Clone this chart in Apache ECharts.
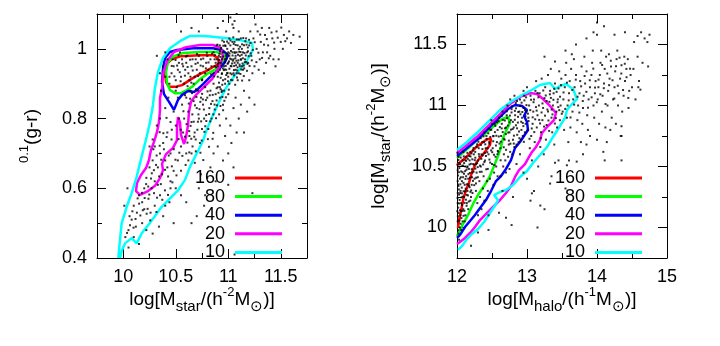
<!DOCTYPE html>
<html>
<head>
<meta charset="utf-8">
<script src="https://cdn.jsdelivr.net/npm/echarts@6/dist/echarts.min.js"></script>
<style>
html, body { margin: 0; padding: 0; background: #fff; }
#chart { width: 720px; height: 346px; }
</style>
</head>
<body>
<div id="chart"></div>
<script>
// contour levels, same for both panels
var levels = ['160', '80', '40', '20', '10'];
var levelColors = ['#ff0000', '#00ff00', '#0000ff', '#ff00ff', '#00ffff'];

// ---- left panel: log Mstar vs 0.1(g-r)
var colorXRange = [9.75, 11.75];
var colorYRange = [0.4, 1.1];
var colorXTicks = [10, 10.5, 11, 11.5];
var colorXMinor = [10.25, 10.75, 11.25];
var colorYTicks = [0.4, 0.6, 0.8, 1];
var colorYMinor = [0.5, 0.7, 0.9];

var colorC160 = [[10.417,0.957],[10.464,0.971],[10.55,0.979],[10.731,0.982],[10.855,0.982],[10.902,0.974],[10.912,0.957],[10.855,0.948],[10.788,0.936],[10.712,0.925],[10.636,0.911],[10.56,0.896],[10.493,0.891],[10.436,0.891],[10.407,0.905],[10.398,0.931],[10.417,0.957]];
var colorC80 = [[10.426,0.962],[10.483,0.979],[10.569,0.988],[10.731,0.991],[10.893,0.991],[10.969,0.982],[10.95,0.959],[10.883,0.942],[10.798,0.928],[10.731,0.913],[10.664,0.893],[10.607,0.882],[10.55,0.873],[10.493,0.873],[10.445,0.882],[10.417,0.902],[10.407,0.934],[10.426,0.962]];
var colorC40 = [[10.398,0.974],[10.445,0.991],[10.512,0.997],[10.664,1.002],[10.855,1.002],[10.94,0.997],[10.998,0.982],[10.969,0.962],[10.902,0.939],[10.826,0.919],[10.76,0.899],[10.712,0.885],[10.674,0.876],[10.617,0.879],[10.56,0.868],[10.521,0.853],[10.483,0.825],[10.436,0.848],[10.388,0.87],[10.369,0.905],[10.379,0.945],[10.398,0.974]];
var colorC20 = [[10.369,0.888],[10.379,0.928],[10.417,0.965],[10.483,0.991],[10.598,1.005],[10.731,1.011],[10.855,1.011],[10.931,1.002],[10.95,0.979],[10.912,0.945],[10.845,0.913],[10.76,0.888],[10.693,0.868],[10.645,0.848],[10.626,0.819],[10.617,0.782],[10.598,0.747],[10.579,0.727],[10.55,0.753],[10.54,0.79],[10.521,0.804],[10.512,0.773],[10.512,0.738],[10.474,0.716],[10.407,0.698],[10.369,0.67],[10.379,0.652],[10.35,0.629],[10.302,0.607],[10.236,0.592],[10.16,0.581],[10.121,0.592],[10.131,0.615],[10.169,0.638],[10.217,0.658],[10.245,0.681],[10.264,0.71],[10.293,0.733],[10.321,0.761],[10.34,0.79],[10.35,0.825],[10.35,0.859],[10.369,0.888]];
var colorC10 = [[9.953,0.4],[9.969,0.452],[9.985,0.5],[10.033,0.547],[10.08,0.586],[10.128,0.633],[10.16,0.673],[10.191,0.71],[10.223,0.748],[10.255,0.79],[10.283,0.839],[10.302,0.888],[10.331,0.934],[10.379,0.974],[10.445,1.002],[10.54,1.022],[10.636,1.037],[10.779,1.037],[10.969,1.031],[11.112,1.025],[11.226,1.017],[11.236,0.997],[11.169,0.962],[11.064,0.925],[10.979,0.888],[10.921,0.853],[10.864,0.816],[10.817,0.784],[10.794,0.767],[10.762,0.738],[10.7,0.7],[10.636,0.662],[10.588,0.624],[10.524,0.595],[10.445,0.571],[10.366,0.547],[10.286,0.514],[10.239,0.495],[10.176,0.471],[10.128,0.442],[10.08,0.457],[10.017,0.442],[9.988,0.423],[9.969,0.4]];

// galaxies, read region by region
var colorDotsCore = [
  [10.46,0.93],[10.48,0.95],[10.5,0.91],[10.52,0.94],[10.53,0.96],[10.55,0.92],[10.56,0.97],[10.58,0.9],[10.59,0.94],[10.6,0.96],[10.62,0.93],[10.63,0.91],[10.65,0.95],[10.66,0.97],[10.68,0.92],[10.7,0.94],[10.71,0.96],[10.73,0.93],[10.74,0.97],[10.76,0.95],[10.78,0.93],[10.79,0.96],[10.81,0.94],[10.83,0.97],[10.84,0.95],[10.86,0.93],[10.88,0.96],[10.47,0.97],[10.51,0.89],[10.57,0.95],[10.64,0.92],[10.69,0.97],[10.75,0.91],[10.8,0.98],[10.87,0.97],[10.44,0.92],[10.54,0.99],[10.61,0.98],[10.72,0.98],[10.67,0.9],
  [10.487,0.921],[10.513,0.952],[10.538,0.933],[10.563,0.957],[10.587,0.923],[10.613,0.948],[10.637,0.969],[10.662,0.938],[10.688,0.957],[10.713,0.922],[10.737,0.952],[10.762,0.972],[10.787,0.944],[10.812,0.961],[10.837,0.927],[10.498,0.968],[10.546,0.907],[10.597,0.978],[10.648,0.903],[10.702,0.985],[10.752,0.912],[10.796,0.989],[10.846,0.986],[10.462,0.951],[10.527,0.982],
  [10.86,0.99],[10.88,1.0],[10.89,0.97],[10.9,0.95],[10.91,0.98],[10.92,1.01],[10.93,0.96],[10.94,0.93],[10.95,0.99],[10.96,1.02],[10.97,0.97],[10.98,0.94],[10.99,1.0],[11.0,0.96],[11.01,0.98],[11.02,1.01],[11.03,0.95],[11.04,0.99],[11.05,0.97],[11.06,1.02],[11.07,0.94],[11.08,0.99],[11.09,0.96],[11.1,1.0],[11.11,0.98],[11.12,1.03],[11.13,0.95],[11.14,0.99],[10.9,0.92],[10.92,0.94],[10.95,0.91],[10.97,0.9],[11.0,0.92],[11.02,0.93],[11.04,0.91],[11.06,0.96],[11.08,0.93],[10.87,0.95],[10.93,1.0],[10.98,0.98],[11.01,1.03],[11.05,1.0],[11.09,1.01],[11.12,0.97],[10.91,0.96],[10.96,0.95],[11.03,0.97],[11.07,0.98],[11.11,0.95],[11.15,1.01],[10.94,0.97],[10.99,0.93],[11.0,0.99],[11.04,1.02],[11.1,0.93],[11.13,1.0],[10.89,1.01],[10.97,1.01],[11.06,0.99],[11.16,0.97],[10.92,0.89],[10.96,0.88],[11.01,0.9],[11.05,0.93],[11.09,0.91],[11.14,0.94],[11.18,0.99],[11.17,1.03],[11.2,1.01],[11.19,0.96],
  [10.873,0.982],[10.884,0.947],[10.897,1.012],[10.905,0.934],[10.913,0.968],[10.921,0.993],[10.928,0.917],[10.936,0.952],[10.944,1.024],[10.951,0.978],[10.958,0.939],[10.967,0.962],[10.974,1.008],[10.981,0.925],[10.987,0.986],[10.994,0.957],[11.003,1.016],[11.011,0.943],[11.018,0.972],[11.026,0.994],[11.033,0.927],[11.041,0.981],[11.048,1.033],[11.056,0.951],[11.063,0.989],[11.071,1.011],[11.078,0.966],[11.086,0.938],[11.093,0.983],[11.101,1.027],[11.108,0.955],[11.117,0.991],[11.124,0.941],[11.132,1.013],[11.139,0.973],[11.147,0.952],[11.155,0.988],[11.163,1.022],[11.171,0.962],[11.178,0.937],[11.186,1.004],[11.194,0.979],[11.203,0.951],[11.212,1.017],[11.224,0.967],[10.912,0.903],[10.943,0.897],[10.971,0.913],[10.998,0.907],[11.027,0.911],[11.056,0.924],[11.083,0.918],[11.116,0.928],[11.148,0.922],[10.865,0.921],[10.889,0.887],[10.937,0.876],[11.005,0.883],[11.066,0.897],[11.132,0.909],
  [10.902,0.957],[10.917,0.986],[10.931,1.003],[10.948,0.944],[10.962,0.991],[10.976,0.951],[10.989,1.021],[11.007,0.964],[11.021,1.024],[11.036,0.958],[11.052,1.014],[11.068,0.973],[11.082,1.027],[11.097,0.967],[11.113,1.006],[11.128,0.983],[11.143,1.031],[11.158,0.962],[11.174,1.012],[11.189,0.993],[10.926,0.977],[10.953,1.009],[10.983,0.972],[11.012,0.987],[11.044,0.966],[11.075,0.953],[11.104,0.992],[11.136,0.958],[11.167,0.981],[11.198,1.026],[10.939,0.928],[10.966,0.941],[10.993,0.931],[11.024,0.951],[11.054,0.939],[11.089,0.947],[11.121,0.969],[11.152,0.944],[11.183,0.957],[11.214,0.987]
];
var colorDotsBright = [
  [11.22,0.98],[11.24,1.03],[11.25,0.95],[11.27,1.0],[11.28,1.05],[11.3,0.97],[11.31,1.02],[11.33,0.99],[11.35,1.04],[11.36,0.96],[11.38,1.01],[11.4,0.98],[11.42,1.03],[11.44,1.0],[11.46,1.05],[11.48,0.97],[11.5,1.02],[11.53,1.04],[11.56,1.03],[11.58,1.05],[11.62,1.04],[11.23,0.93],[11.29,0.94],[11.34,0.93],[11.21,1.05],[11.26,1.07],[11.39,1.06],[11.45,0.95],[11.52,1.0],[11.32,1.06],[11.2,0.91],[11.37,0.99],[11.43,0.97],[11.68,1.035],
  [11.233,0.997],[11.252,1.019],[11.268,0.962],[11.287,0.989],[11.304,1.041],[11.322,0.974],[11.341,1.012],[11.367,1.028],[11.386,0.973],[11.412,1.047],[11.437,1.018],[11.471,1.032],[11.505,1.061],[11.543,1.022],[11.597,1.017],
  [11.02,1.09],[11.04,1.07],[11.06,1.08],[11.08,1.1],[10.9,1.06],[10.72,1.05],[10.65,1.06],[10.55,1.05],[10.4,0.99],[10.35,0.93],[10.32,0.98],[10.98,1.05],[11.05,1.06],[10.95,1.08],[11.1,1.05]
];
var colorDotsMid = [
  [10.6,0.86],[10.62,0.82],[10.64,0.88],[10.65,0.79],[10.67,0.85],[10.68,0.76],[10.7,0.83],[10.71,0.88],[10.72,0.8],[10.74,0.86],[10.75,0.77],[10.76,0.84],[10.78,0.89],[10.79,0.81],[10.8,0.86],[10.82,0.83],[10.83,0.88],[10.85,0.85],[10.86,0.9],[10.88,0.87],[10.9,0.89],[10.63,0.75],[10.66,0.72],[10.69,0.74],[10.73,0.73],[10.58,0.8],[10.57,0.76],[10.55,0.72],[10.6,0.7],[10.62,0.68],[10.65,0.7],[10.77,0.8],[10.81,0.77],[10.84,0.8],[10.87,0.84],[10.92,0.86],[10.94,0.88],[10.56,0.84],[10.53,0.8],[10.5,0.78],[10.48,0.82],[10.45,0.79],[10.43,0.86],[10.4,0.83],[10.42,0.76],[10.46,0.74],[10.52,0.86],[10.5,0.88],[10.44,0.9],[10.4,0.92],[10.38,0.95],[10.42,0.97],[10.36,0.88],
  [10.612,0.893],[10.637,0.857],[10.655,0.873],[10.683,0.838],[10.697,0.862],[10.716,0.812],[10.734,0.848],[10.751,0.871],[10.768,0.826],[10.787,0.853],[10.803,0.878],[10.818,0.813],[10.836,0.842],[10.852,0.868],[10.871,0.826],[10.889,0.852],[10.907,0.874],[10.926,0.836],[10.944,0.862],[10.963,0.851],[10.588,0.867],[10.603,0.784],[10.628,0.764],[10.671,0.791],[10.706,0.768],[10.742,0.792],[10.773,0.762],[10.806,0.741],[10.829,0.792],[10.857,0.759],[10.884,0.801],[10.913,0.812],[10.951,0.824],[10.977,0.861],[10.573,0.821],[10.547,0.768],[10.527,0.741],[10.611,0.731],[10.648,0.742],[10.691,0.706],
  [10.624,0.843],[10.658,0.812],[10.693,0.884],[10.726,0.827],[10.758,0.855],[10.791,0.793],[10.824,0.867],[10.858,0.812],[10.893,0.838],[10.928,0.884],[10.641,0.779],[10.676,0.748],[10.711,0.791],[10.747,0.737],[10.781,0.778],[10.817,0.719],[10.851,0.742],[10.588,0.748],[10.563,0.693],[10.594,0.667],[10.629,0.703],[10.735,0.702],[10.762,0.681],[10.682,0.673]
];
var colorDotsTail = [
  [10.38,0.73],[10.35,0.7],[10.4,0.68],[10.33,0.66],[10.37,0.64],[10.42,0.66],[10.3,0.72],[10.28,0.68],[10.25,0.66],[10.3,0.62],[10.27,0.6],[10.33,0.61],[10.22,0.63],[10.2,0.6],[10.24,0.57],[10.18,0.56],[10.15,0.58],[10.2,0.54],[10.26,0.53],[10.13,0.53],[10.1,0.55],[10.08,0.51],[10.12,0.49],[10.05,0.48],[10.02,0.46],[10.05,0.43],[10.18,0.5],[10.22,0.48],[10.3,0.55],[10.35,0.58],[10.45,0.62],[10.48,0.65],[10.5,0.6],[10.44,0.56],[10.52,0.68],[10.55,0.65],[10.38,0.52],[10.4,0.55],[10.28,0.47],[10.15,0.44],[10.1,0.46],[10.01,0.55],[10.04,0.6],[10.06,0.52],[10.45,0.7],[10.55,0.58],[10.6,0.56],[10.48,0.5],[10.34,0.49],[10.32,0.78],[10.28,0.74],[10.25,0.72],[10.35,0.8],[10.45,0.6],
  [10.413,0.747],[10.387,0.712],[10.433,0.694],[10.362,0.682],[10.398,0.653],[10.318,0.694],[10.292,0.652],[10.264,0.628],[10.341,0.634],[10.238,0.605],[10.293,0.586],[10.178,0.587],[10.204,0.572],[10.151,0.556],[10.232,0.541],[10.117,0.512],[10.087,0.534],[10.163,0.522],[10.064,0.494],[10.036,0.472],[10.257,0.508],[10.316,0.532],[10.372,0.567],[10.426,0.581],[10.468,0.617],[10.507,0.637],[10.534,0.702],[10.481,0.712],[10.462,0.768],[10.412,0.802],
  [10.287,0.712],[10.312,0.667],[10.347,0.722],[10.272,0.643],[10.218,0.612],[10.248,0.582],[10.186,0.537],[10.137,0.571],[10.098,0.487],[10.322,0.573],[10.358,0.612],[10.397,0.594],[10.427,0.634],[10.463,0.663],[10.497,0.682],[10.382,0.758],[10.347,0.761],[10.223,0.527]
];
var colorDotsOut = [
  [10.95,0.84],[10.98,0.8],[11.0,0.87],[11.02,0.78],[11.05,0.83],[11.07,0.86],[11.1,0.8],[11.12,0.84],[11.15,0.88],[11.08,0.76],[11.03,0.73],[10.97,0.75],[10.92,0.78],[10.9,0.72],[10.86,0.7],[10.83,0.66],[10.8,0.63],[10.78,0.58],[10.88,0.62],[10.95,0.68],[11.0,0.7],[11.05,0.66],[11.18,0.82],[11.2,0.86],[11.15,0.76],[11.25,0.84],[10.7,0.52],[10.65,0.5],[10.72,0.6],[11.0,0.61],[10.74,0.64],[10.77,0.55],[11.23,0.586],[11.06,0.41]
];

// ---- right panel: log Mhalo vs log Mstar
var haloXRange = [12, 15];
var haloYRange = [9.75, 11.75];
var haloXTicks = [12, 13, 14, 15];
var haloXMinor = [12.5, 13.5, 14.5];
var haloYTicks = [10, 10.5, 11, 11.5];
var haloYMinor = [10.25, 10.75, 11.25];

var haloC160 = [[12.0,10.512],[12.139,10.58],[12.281,10.662],[12.424,10.721],[12.486,10.73],[12.471,10.676],[12.376,10.602],[12.281,10.537],[12.214,10.455],[12.171,10.365],[12.129,10.307],[12.09,10.234],[12.057,10.135],[12.029,10.061],[12.014,9.996]];
var haloC80 = [[12.0,10.57],[12.129,10.635],[12.271,10.709],[12.414,10.775],[12.543,10.84],[12.643,10.889],[12.729,10.906],[12.757,10.857],[12.7,10.791],[12.657,10.734],[12.629,10.66],[12.586,10.586],[12.529,10.504],[12.471,10.422],[12.386,10.34],[12.3,10.266],[12.229,10.193],[12.157,10.102],[12.086,10.029],[12.029,9.963],[12.0,9.93]];
var haloC40 = [[12.0,10.586],[12.143,10.652],[12.3,10.725],[12.471,10.824],[12.614,10.906],[12.729,10.971],[12.829,11.004],[12.929,10.996],[13.0,10.963],[12.957,10.914],[13.0,10.865],[13.014,10.799],[12.957,10.75],[12.9,10.701],[12.829,10.652],[12.771,10.553],[12.7,10.48],[12.629,10.422],[12.557,10.381],[12.486,10.299],[12.414,10.225],[12.329,10.16],[12.257,10.102],[12.186,10.053],[12.114,10.004],[12.043,9.939],[12.0,9.914]];
var haloC20 = [[12.0,10.611],[12.143,10.676],[12.3,10.75],[12.471,10.848],[12.614,10.93],[12.757,11.012],[12.9,11.07],[13.043,11.102],[13.143,11.094],[13.229,11.053],[13.329,10.996],[13.414,10.939],[13.386,10.881],[13.3,10.832],[13.214,10.775],[13.186,10.717],[13.129,10.66],[13.071,10.619],[13.029,10.578],[12.971,10.52],[12.886,10.471],[12.829,10.414],[12.771,10.34],[12.7,10.283],[12.614,10.225],[12.514,10.168],[12.429,10.119],[12.329,10.061],[12.257,10.004],[12.186,9.955],[12.114,9.914],[12.043,9.881],[12.0,9.865]];
var haloC10 = [[12.0,10.635],[12.143,10.701],[12.3,10.783],[12.471,10.881],[12.614,10.963],[12.786,11.037],[12.929,11.086],[13.043,11.119],[13.186,11.168],[13.329,11.184],[13.4,11.135],[13.471,11.16],[13.557,11.176],[13.657,11.135],[13.714,11.053],[13.643,11.012],[13.571,10.963],[13.543,10.898],[13.471,10.832],[13.371,10.742],[13.286,10.66],[13.186,10.594],[13.086,10.529],[13.0,10.463],[12.9,10.414],[12.8,10.348],[12.7,10.307],[12.614,10.291],[12.529,10.266],[12.586,10.225],[12.529,10.168],[12.471,10.119],[12.386,10.045],[12.3,9.988],[12.214,9.947],[12.143,9.906],[12.071,9.848],[12.014,9.816]];

var haloDotsLow = [
  [12.01,10.05],[12.02,10.12],[12.01,10.2],[12.03,10.27],[12.02,10.34],[12.04,10.4],[12.01,10.47],[12.03,10.53],[12.05,10.1],[12.06,10.2],[12.05,10.3],[12.07,10.38],[12.06,10.46],[12.08,10.55],[12.09,10.15],[12.1,10.25],[12.11,10.35],[12.1,10.44],[12.12,10.5],[12.13,10.58],[12.14,10.2],[12.15,10.3],[12.16,10.4],[12.17,10.48],[12.18,10.55],[12.19,10.62],[12.2,10.25],[12.21,10.35],[12.22,10.45],[12.23,10.52],[12.24,10.6],[12.02,9.95],[12.04,10.0],[12.08,10.05],[12.12,10.1],[12.16,10.15],[12.03,9.9],[12.06,9.98],[12.01,10.38],[12.02,10.58],[12.07,10.28],[12.13,10.42],[12.18,10.33],[12.25,10.4],[12.11,10.05],[12.19,10.22],[12.15,10.5],[12.09,10.62],
  [12.012,10.092],[12.018,10.163],[12.008,10.243],[12.026,10.312],[12.014,10.426],[12.033,10.487],[12.021,10.553],[12.042,10.142],[12.037,10.226],[12.048,10.354],[12.056,10.412],[12.044,10.518],[12.063,10.077],[12.071,10.184],[12.068,10.327],[12.079,10.453],[12.083,10.253],[12.092,10.366],[12.088,10.507],[12.097,10.583],[12.106,10.137],[12.114,10.296],[12.121,10.398],[12.118,10.551],[12.127,10.228],[12.135,10.473],[12.142,10.354],[12.149,10.612],[12.156,10.263],[12.163,10.437],[12.171,10.342],[12.178,10.516],[12.186,10.408],[12.194,10.582],[12.203,10.304],[12.211,10.478],[12.219,10.559],[12.228,10.382],[12.236,10.651],[12.244,10.514],[12.017,9.978],[12.052,10.031],[12.093,10.096],[12.137,10.178],[12.007,10.612],
  [12.004,10.134],[12.011,10.283],[12.016,10.352],[12.009,10.513],[12.027,10.453],[12.031,10.197],[12.035,10.058],[12.046,10.283],[12.053,10.573],[12.061,10.133],[12.066,10.247],[12.074,10.506],[12.081,10.137],[12.087,10.412],[12.094,10.297],[12.102,10.528],[12.108,10.202],[12.116,10.462],[12.124,10.318],[12.131,10.547],[12.139,10.267],[12.147,10.492],[12.154,10.563],[12.161,10.353],[12.168,10.213],[12.176,10.586],[12.183,10.447],[12.191,10.292],[12.198,10.522],[12.206,10.607],[12.214,10.412],[12.221,10.283],[12.229,10.632],[12.237,10.458],[12.246,10.347],[12.254,10.552]
];
var haloDotsMid = [
  [12.27,10.3],[12.28,10.45],[12.3,10.55],[12.31,10.65],[12.32,10.38],[12.34,10.5],[12.35,10.6],[12.36,10.7],[12.38,10.42],[12.4,10.55],[12.41,10.65],[12.42,10.75],[12.44,10.48],[12.45,10.6],[12.46,10.7],[12.48,10.8],[12.5,10.52],[12.51,10.65],[12.52,10.75],[12.54,10.85],[12.55,10.58],[12.57,10.7],[12.58,10.8],[12.6,10.9],[12.29,10.2],[12.33,10.25],[12.37,10.32],[12.43,10.38],[12.47,10.4],[12.53,10.45],[12.56,10.5],[12.59,10.62],[12.26,10.62],[12.39,10.78],[12.49,10.88],[12.35,10.15],[12.45,10.1],[12.3,10.1],[12.39,10.22],[12.27,10.52],[12.44,10.3],[12.52,10.35],[12.58,10.42],
  [12.62,10.65],[12.63,10.75],[12.64,10.85],[12.65,10.95],[12.67,10.6],[12.68,10.72],[12.7,10.82],[12.71,10.92],[12.72,11.0],[12.74,10.68],[12.75,10.78],[12.77,10.88],[12.78,10.97],[12.8,10.72],[12.81,10.82],[12.83,10.92],[12.84,11.02],[12.86,10.76],[12.87,10.86],[12.89,10.95],[12.9,11.05],[12.92,10.8],[12.93,10.9],[12.95,10.98],[12.96,11.08],[12.98,10.85],[12.99,10.95],[12.66,10.5],[12.69,10.55],[12.73,10.58],[12.76,10.62],[12.79,10.6],[12.82,10.66],[12.85,10.68],[12.88,10.7],[12.91,10.72],[12.94,10.75],[12.97,10.78],[12.62,10.42],[12.7,10.45],[12.85,10.52],[12.82,11.08],[12.76,11.05],[12.95,11.12],[12.9,10.6],[12.65,10.3],[12.75,10.48],
  [12.262,10.572],[12.274,10.408],[12.287,10.682],[12.296,10.495],[12.312,10.601],[12.326,10.456],[12.338,10.732],[12.347,10.563],[12.363,10.643],[12.374,10.517],[12.386,10.701],[12.397,10.611],[12.413,10.586],[12.424,10.726],[12.437,10.651],[12.452,10.812],[12.463,10.557],[12.476,10.742],[12.488,10.632],[12.503,10.848],[12.517,10.707],[12.528,10.596],[12.542,10.782],[12.556,10.672],[12.571,10.862],[12.583,10.627],[12.597,10.746],[12.612,10.823],[12.626,10.703],[12.641,10.917],[12.653,10.782],[12.668,10.658],[12.683,10.877],[12.697,10.766],[12.712,10.953],[12.726,10.836],[12.741,10.712],[12.756,10.917],[12.771,10.802],[12.785,10.993],[12.798,10.866],[12.813,10.753],[12.827,10.956],[12.842,10.838],[12.857,11.037],[12.871,10.907],[12.886,10.787],[12.902,10.998],[12.917,10.867],[12.933,10.947],[12.948,10.831],[12.963,11.042],[12.978,10.912],[12.992,11.003],
  [12.262,10.482],[12.271,10.361],[12.279,10.662],[12.288,10.527],[12.297,10.412],[12.306,10.703],[12.317,10.583],[12.328,10.507],[12.341,10.677],[12.352,10.457],[12.366,10.592],[12.379,10.747],[12.391,10.537],[12.404,10.682],[12.418,10.477],[12.432,10.617],[12.447,10.772],[12.461,10.687],[12.474,10.532],[12.489,10.802],[12.503,10.617],[12.518,10.748],[12.532,10.512],[12.547,10.833],
  [12.562,10.752],[12.578,10.601],[12.593,10.872],[12.607,10.688],[12.623,10.551],[12.638,10.812],[12.654,10.882],[12.669,10.727],[12.684,10.813],[12.701,10.637],[12.716,10.896],[12.732,10.778],[12.748,10.862],[12.763,10.687],[12.779,10.943],[12.795,10.807],[12.811,10.688],[12.826,10.883],[12.843,10.977],[12.858,10.813],[12.874,10.947],[12.891,10.732],[12.907,10.928],[12.923,11.023],[12.939,10.857],[12.955,10.702],[12.971,10.962],[12.987,11.067]
];
var haloDotsHigh = [
  [13.01,10.8],[13.02,10.9],[13.03,11.0],[13.05,11.08],[13.06,10.75],[13.08,10.85],[13.09,10.95],[13.1,11.05],[13.12,11.12],[13.14,10.82],[13.15,10.92],[13.17,11.0],[13.18,11.1],[13.2,10.78],[13.22,10.88],[13.23,10.98],[13.25,11.06],[13.26,11.15],[13.28,10.84],[13.3,10.95],[13.32,11.03],[13.33,11.12],[13.35,10.9],[13.37,11.0],[13.38,11.1],[13.4,11.18],[13.42,10.95],[13.44,11.05],[13.45,11.14],[13.47,10.88],[13.48,11.0],[13.49,11.22],[13.04,10.65],[13.11,10.7],[13.19,10.66],[13.27,10.72],[13.36,10.78],[13.43,10.82],[13.13,11.2],[13.21,11.22],[13.3,11.25],[13.46,11.28],[13.07,10.55],[13.24,10.6],[13.16,10.5],[13.39,10.68],[13.0,11.15],[13.34,11.3],
  [13.013,10.933],[13.036,10.727],[13.058,11.047],[13.081,10.903],[13.104,10.782],[13.128,10.987],[13.151,11.102],[13.174,10.882],[13.197,10.732],[13.221,11.017],[13.244,10.827],[13.268,11.082],[13.291,10.967],[13.316,10.792],[13.341,11.062],[13.364,10.927],[13.389,11.137],[13.412,10.897],[13.436,11.027],[13.461,10.962],[13.486,11.167],
  [13.51,10.95],[13.52,11.05],[13.54,11.15],[13.55,11.25],[13.57,10.9],[13.58,11.0],[13.6,11.1],[13.61,11.2],[13.63,11.3],[13.65,10.95],[13.66,11.05],[13.68,11.15],[13.7,11.25],[13.72,10.88],[13.73,11.0],[13.75,11.1],[13.76,11.2],[13.78,11.32],[13.8,10.98],[13.81,11.08],[13.83,11.18],[13.85,11.28],[13.86,10.92],[13.88,11.05],[13.9,11.15],[13.92,11.25],[13.93,11.35],[13.95,11.0],[13.97,11.1],[13.98,11.2],[13.53,10.8],[13.62,10.82],[13.71,10.78],[13.79,10.85],[13.87,10.8],[13.96,10.9],[13.56,11.35],[13.67,11.38],[13.82,11.4],[13.94,11.45],[13.59,10.7],[13.77,10.7],[13.64,11.42],
  [14.01,11.05],[14.02,11.15],[14.04,11.25],[14.05,11.35],[14.07,10.95],[14.08,11.08],[14.1,11.18],[14.11,11.3],[14.13,11.4],[14.15,11.0],[14.16,11.12],[14.18,11.22],[14.2,11.32],[14.21,10.9],[14.23,11.05],[14.25,11.15],[14.26,11.28],[14.28,11.38],[14.3,11.0],[14.31,11.1],[14.33,11.22],[14.35,11.33],[14.36,10.95],[14.38,11.08],[14.4,11.2],[14.42,11.3],[14.44,11.38],[14.46,11.12],[14.48,11.25],[14.03,10.85],[14.12,10.82],[14.19,10.8],[14.27,10.85],[14.34,10.75],[14.06,11.45],[14.17,11.42],[14.29,11.45],[14.39,11.4],[14.45,10.98],[14.5,11.15],[14.14,10.7],[14.09,10.62],
  [13.022,10.873],[13.047,10.962],[13.068,10.812],[13.093,11.027],[13.117,10.887],[13.138,10.958],[13.163,11.067],[13.187,10.853],[13.208,10.943],[13.232,11.123],[13.257,10.917],[13.281,11.037],[13.306,10.877],[13.327,11.092],[13.352,10.967],[13.377,11.047],[13.398,10.852],[13.423,11.112],[13.447,10.987],[13.472,11.072],[13.497,10.932],[13.522,11.107],[13.546,10.972],[13.571,11.187],[13.596,11.042],[13.622,10.902],[13.647,11.127],[13.673,11.007],[13.697,11.212],[13.722,11.072],[13.748,10.942],[13.773,11.157],[13.797,11.037],[13.823,11.242],[13.848,11.112],[13.872,10.982],[13.897,11.207],[13.923,11.067],[13.947,11.302],[13.972,11.147],[13.997,11.027],[14.022,11.212],[14.047,11.092],[14.073,11.332],[14.097,11.142],[14.122,11.012],[14.147,11.262],[14.173,11.167],[14.197,11.367],[14.222,11.207],[14.247,11.057],[14.272,11.322],[14.297,11.162],[14.322,11.392],[14.347,11.262],[14.372,11.127],[14.397,11.342],[14.422,11.232],[14.447,11.062],[14.472,11.302]
];
var haloDotsOut = [
  [14.52,11.3],[14.55,11.05],[14.58,11.4],[14.6,11.2],[14.62,11.13],[14.65,11.35],[14.68,11.55],[14.72,11.52],[14.58,11.57],[14.75,11.58],[14.53,11.52],[14.63,11.6],[14.73,11.32],[14.59,11.15],
  [13.25,11.4],[13.4,11.36],[13.55,11.45],[13.7,11.5],[13.85,11.55],[14.0,11.58],[14.25,11.58],[14.4,11.6],[14.1,11.65],[13.95,11.6],[14.0,11.68],
  [13.1,10.3],[13.25,10.15],[13.35,10.42],[13.45,10.55],[13.6,10.55],[13.8,10.6],[13.9,10.75],[14.0,10.72],[14.35,10.55],[13.05,10.22],[12.8,10.25],[12.6,10.12],[12.45,9.98],[12.3,9.96],[12.2,9.85],[12.7,10.08],[13.15,10.0],[13.0,10.4],[12.95,10.45],[13.55,10.32],[12.78,10.02],[13.07,10.28],[13.19,10.18],[13.33,10.36],[13.4,10.53],[13.57,10.51],[13.71,10.54],[14.11,10.55],[13.85,10.68],[14.35,10.83],[14.35,10.75]
];

var fontFam = "'Liberation Sans', Arial, sans-serif";
var richStyles = {
  sub: { fontSize: 15, lineHeight: 14, verticalAlign: 'bottom', fontFamily: fontFam, color: '#000' },
  sup: { fontSize: 13, lineHeight: 13, verticalAlign: 'top', fontFamily: fontFam, color: '#000' }
};

var grids = [], xAxes = [], yAxes = [], series = [];

function gridBox(b) {
  return { left: b.left, top: b.top, width: b.width, height: b.height, outerBoundsMode: 'none', containLabel: false };
}

// frame of a panel: four axis lines, axis titles, no ticks
function frameAxis(gi, pos, range, name, gap) {
  return {
    type: 'value', gridIndex: gi, position: pos, min: range[0], max: range[1],
    axisLine: { show: true, onZero: false, lineStyle: { color: '#000', width: 1 } },
    axisTick: { show: false }, axisLabel: { show: false }, splitLine: { show: false },
    name: name, nameLocation: 'middle', nameGap: gap,
    nameTextStyle: { color: '#000', fontSize: 19, fontFamily: fontFam, lineHeight: 28, rich: richStyles }
  };
}
// tick carrier axis, counted in hundredths so the steps stay exact
function tickAxis(gi, pos, vals, len, withLabels) {
  var k = 100;
  return {
    type: 'value', gridIndex: gi, position: pos,
    min: Math.round(vals[0] * k), max: Math.round(vals[vals.length - 1] * k),
    interval: Math.round((vals[1] - vals[0]) * k),
    axisLine: { show: false, onZero: false },
    axisTick: { show: true, inside: true, length: len, lineStyle: { color: '#000', width: 1 } },
    axisLabel: {
      show: withLabels, showMinLabel: true, showMaxLabel: true, color: '#000', fontSize: 18, fontFamily: fontFam, margin: 10,
      formatter: function (v) { return String(Math.round(v) / k); }
    },
    splitLine: { show: false }
  };
}
function hiddenAxis(gi) {
  return { type: 'value', gridIndex: gi, min: 0, max: 1, show: false };
}
// extra grid that only carries tick marks, placed so its ends sit on the first and last tick
function addTicks(isX, box, range, vals, len, withLabels) {
  var span = range[1] - range[0];
  var a = vals[0], b = vals[vals.length - 1];
  var g;
  if (isX) {
    g = { left: box.left + (a - range[0]) / span * box.width, width: (b - a) / span * box.width, top: box.top, height: box.height };
  } else {
    g = { top: box.top + (range[1] - b) / span * box.height, height: (b - a) / span * box.height, left: box.left, width: box.width };
  }
  grids.push(gridBox(g));
  var gi = grids.length - 1;
  if (isX) {
    xAxes.push(tickAxis(gi, 'bottom', vals, len, withLabels), tickAxis(gi, 'top', vals, len, false));
    yAxes.push(hiddenAxis(gi));
  } else {
    yAxes.push(tickAxis(gi, 'left', vals, len, withLabels), tickAxis(gi, 'right', vals, len, false));
    xAxes.push(hiddenAxis(gi));
  }
}

function addPanel(box, xr, yr, xt, xm, yt, ym, xName, yName, yGap, contours, dots) {
  grids.push(gridBox(box));
  var gi = grids.length - 1;
  var xi = xAxes.length, yi = yAxes.length;
  xAxes.push(frameAxis(gi, 'bottom', xr, xName, 28), frameAxis(gi, 'top', xr, '', 0));
  yAxes.push(frameAxis(gi, 'left', yr, yName, yGap), frameAxis(gi, 'right', yr, '', 0));
  for (var i = 0; i < levels.length; i++) {
    series.push({
      name: levels[i], type: 'line', xAxisIndex: xi, yAxisIndex: yi,
      data: contours[i], showSymbol: false, symbol: 'none', smooth: false,
      lineStyle: { color: levelColors[i], width: 2.5 },
      itemStyle: { color: levelColors[i] },
      z: 2, silent: true
    });
  }
  series.push({
    type: 'scatter', xAxisIndex: xi, yAxisIndex: yi, data: dots,
    symbol: 'rect', symbolSize: 2, itemStyle: { color: '#000' }, z: 3, silent: true
  });
  addTicks(true, box, xr, xt, 9, true);
  addTicks(true, box, xr, xm, 5, false);
  addTicks(false, box, yr, yt, 9, true);
  addTicks(false, box, yr, ym, 5, false);
}

addPanel({ left: 97, top: 14, width: 210, height: 244 }, colorXRange, colorYRange,
  colorXTicks, colorXMinor, colorYTicks, colorYMinor,
  'log[M{sub|star}/(h{sup|-2}M{sub|⊙})]', '{sup|0.1}(g-r)', 51,
  [colorC160, colorC80, colorC40, colorC20, colorC10],
  colorDotsCore.concat(colorDotsBright, colorDotsMid, colorDotsTail, colorDotsOut));
addPanel({ left: 457, top: 14, width: 210, height: 244 }, haloXRange, haloYRange,
  haloXTicks, haloXMinor, haloYTicks, haloYMinor,
  'log[M{sub|halo}/(h{sup|-1}M{sub|⊙})]', 'log[M{sub|star}/(h{sup|-2}M{sub|⊙})]', 64,
  [haloC160, haloC80, haloC40, haloC20, haloC10],
  haloDotsLow.concat(haloDotsMid, haloDotsHigh, haloDotsOut));

function panelLegend(rightPos) {
  return {
    data: levels, orient: 'vertical', align: 'right', right: rightPos, top: 164,
    icon: 'rect', itemWidth: 47, itemHeight: 3, itemGap: 0.6, selectedMode: false,
    formatter: function (n) { return n + ' '; },
    textStyle: { color: '#000', fontSize: 18, fontFamily: fontFam, lineHeight: 17 }
  };
}

var myChart = echarts.init(document.getElementById('chart'));
myChart.setOption({
  backgroundColor: '#fff',
  animation: false,
  grid: grids,
  legend: [panelLegend(433), panelLegend(73)],
  xAxis: xAxes,
  yAxis: yAxes,
  series: series
});
</script>
</body>
</html>
